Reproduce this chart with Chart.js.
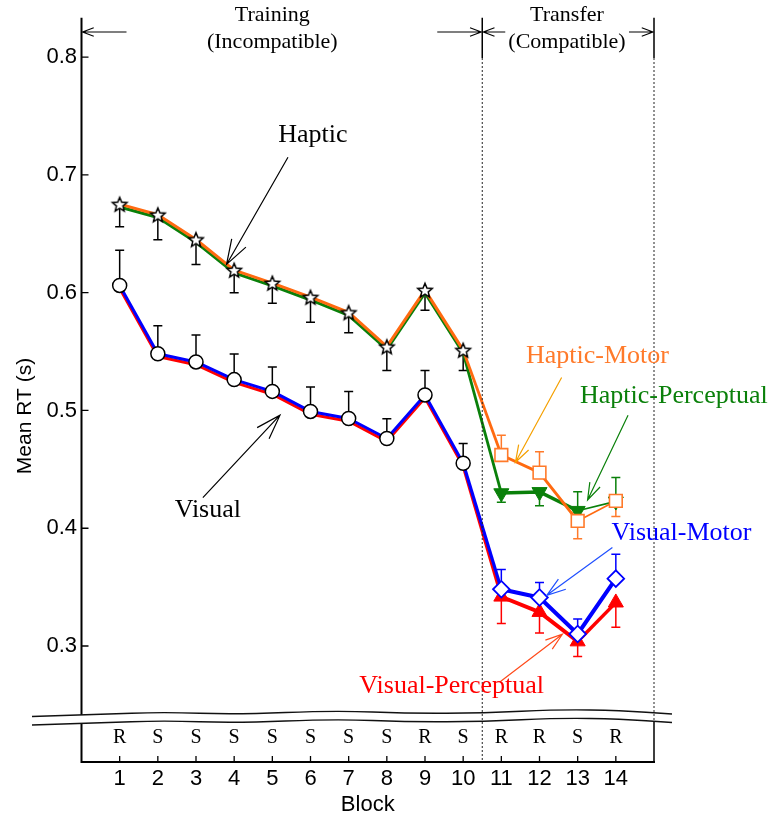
<!DOCTYPE html>
<html>
<head>
<meta charset="utf-8">
<script src="https://cdn.jsdelivr.net/npm/chart.js@4.4.1/dist/chart.umd.min.js"></script>
<style>
  html, body { margin: 0; padding: 0; background: #fff; }
  canvas { display: block; }
</style>
</head>
<body>
<canvas id="rt" width="774" height="823"></canvas>
<script>
// ---- data -------------------------------------------------------------
const blocks = [1, 2, 3, 4, 5, 6, 7, 8, 9, 10, 11, 12, 13, 14];
const trialTypes = ['R', 'S', 'S', 'S', 'S', 'S', 'S', 'S', 'R', 'S', 'R', 'R', 'S', 'R'];
const yTickValues = [0.3, 0.4, 0.5, 0.6, 0.7, 0.8];

// training blocks 1-10 (both groups of each modality share the same curve)
const hapticTraining = [0.674, 0.665, 0.644, 0.618, 0.607, 0.595, 0.582, 0.553, 0.601, 0.550];
const visualTraining = [0.605, 0.547, 0.540, 0.525, 0.515, 0.498, 0.492, 0.475, 0.512, 0.454];

// transfer blocks 11-14
const hapticMotor      = [0.461, 0.446, 0.405, 0.422];
const hapticPerceptual = [0.431, 0.432, 0.416, 0.424];
const visualMotor      = [0.347, 0.340, 0.309, 0.356];
const visualPerceptual = [0.343, 0.330, 0.305, 0.338];

// end values of the one-sided error bars
const hapticTrainingErr   = [0.656, 0.645, 0.624, 0.600, 0.591, 0.575, 0.566, 0.534, 0.585, 0.534];
const visualTrainingErr   = [0.636, 0.572, 0.564, 0.548, 0.537, 0.520, 0.516, 0.493, 0.534, 0.472];
const hapticMotorErr      = [0.479, 0.465, 0.391, 0.410];
const hapticPerceptualErr = [0.422, 0.419, 0.431, 0.443];
const visualMotorErr      = [0.365, 0.354, 0.323, 0.378];
const visualPerceptualErr = [0.319, 0.311, 0.291, 0.316];

// ---- colours / fonts --------------------------------------------------
const ORANGE = '#ff6a10';
const ORANGE_MK = '#ff7a2a';
const ORANGE_ARROW = '#f5a000';
const GREEN = '#0a800a';
const BLUE = '#0000ff';
const BLUE_ARROW = '#1f4fff';
const RED = '#ff0000';
const RED_ARROW = '#ff4a1a';
const SANS = '"Liberation Sans", Arial, sans-serif';
const SERIF = '"Liberation Serif", "Times New Roman", serif';

const nTrain = hapticTraining.length;
const nTransfer = hapticMotor.length;
const toPoints = vals => vals.map((v, i) => ({ x: blocks[i], y: v }));
const repeat = (a, n, b, m) => Array(n).fill(a).concat(Array(m).fill(b));

// five-pointed hollow star used for the haptic training points
function makeStar(outer, inner, lw) {
  const size = 22;
  const c = document.createElement('canvas');
  c.width = size; c.height = size;
  const g = c.getContext('2d');
  g.beginPath();
  for (let k = 0; k < 10; k++) {
    const r = k % 2 ? inner : outer;
    const a = -Math.PI / 2 + k * Math.PI / 5;
    g.lineTo(size / 2 + r * Math.cos(a), size / 2 + 0.8 + r * Math.sin(a));
  }
  g.closePath();
  g.fillStyle = '#fff';
  g.fill();
  g.lineWidth = lw;
  g.strokeStyle = '#000';
  g.lineJoin = 'miter';
  g.stroke();
  return c;
}
const star = makeStar(7.6, 3.4, 1.5);

// per-segment line widths (segment i joins block i+1 and i+2)
const widthsHM = [3, 3, 3, 3, 3, 3, 3, 3, 3, 2.8, 3, 3, 1.6];
const widthsHP = [3, 3, 3, 3, 3, 3, 3, 3, 3, 2.8, 3.5, 3.5, 1.6];
const widthsVM = [3, 3, 3, 3, 3, 3, 3, 3, 3, 3.2, 4, 4, 4];
const widthsVP = [3, 3, 3, 3, 3, 3, 3, 3, 3, 3.2, 4, 4, 3.5];

// paired lines are drawn side by side; vertical shift in px per dataset
const bandShift = [-1.4, 1.4, -1.4, 1.4];

const datasets = [
  { // Visual-Motor (blue, on top)
    data: toPoints(visualTraining.concat(visualMotor)),
    borderColor: BLUE,
    borderWidth: 3,
    segment: { borderWidth: c => widthsVM[c.p0DataIndex] },
    pointStyle: repeat('circle', nTrain, 'rectRot', nTransfer),
    pointRadius: repeat(7, nTrain, 8.3, nTransfer),
    pointBackgroundColor: '#fff',
    pointBorderColor: repeat('#000', nTrain, BLUE, nTransfer),
    pointBorderWidth: repeat(1.5, nTrain, 1.8, nTransfer)
  },
  { // Visual-Perceptual (red)
    data: toPoints(visualTraining.concat(visualPerceptual)),
    borderColor: RED,
    borderWidth: 3,
    segment: { borderWidth: c => widthsVP[c.p0DataIndex] },
    pointStyle: 'triangle',
    pointRadius: repeat(0, nTrain, 8.7, nTransfer),
    pointBackgroundColor: RED,
    pointBorderColor: RED,
    pointBorderWidth: 1
  },
  { // Haptic-Motor (orange)
    data: toPoints(hapticTraining.concat(hapticMotor)),
    borderColor: ORANGE,
    borderWidth: 3,
    segment: { borderWidth: c => widthsHM[c.p0DataIndex] },
    pointStyle: repeat(star, nTrain, 'rect', nTransfer),
    pointRadius: repeat(7, nTrain, 9, nTransfer),
    pointBackgroundColor: '#fff',
    pointBorderColor: ORANGE_MK,
    pointBorderWidth: 1.6
  },
  { // Haptic-Perceptual (green)
    data: toPoints(hapticTraining.concat(hapticPerceptual)),
    borderColor: GREEN,
    borderWidth: 3,
    segment: { borderWidth: c => widthsHP[c.p0DataIndex] },
    pointStyle: 'triangle',
    pointRotation: 180,
    pointRadius: repeat(0, nTrain, 8.7, nTransfer),
    pointBackgroundColor: GREEN,
    pointBorderColor: GREEN,
    pointBorderWidth: 1
  }
];

const errorSets = [
  { first: 0, vals: hapticTraining, ends: hapticTrainingErr, color: '#000' },
  { first: 0, vals: visualTraining, ends: visualTrainingErr, color: '#000' },
  { first: nTrain, vals: hapticMotor, ends: hapticMotorErr, color: ORANGE_MK },
  { first: nTrain, vals: hapticPerceptual, ends: hapticPerceptualErr, color: GREEN },
  { first: nTrain, vals: visualMotor, ends: visualMotorErr, color: BLUE },
  { first: nTrain, vals: visualPerceptual, ends: visualPerceptualErr, color: RED }
];

// labelled arrows, positioned in (block, seconds)
const callouts = [
  { text: 'Haptic', color: '#000', at: [6.06, 0.734], from: [5.41, 0.715], to: [3.80, 0.624], arrow: '#000', head: 26 },
  { text: 'Visual', color: '#000', at: [3.31, 0.415], from: [3.18, 0.426], to: [5.20, 0.496], arrow: '#000', head: 26 },
  { text: 'Haptic-Motor', color: ORANGE_MK, at: [13.52, 0.546], from: [12.58, 0.528], to: [11.37, 0.456], arrow: ORANGE_ARROW, head: 18 },
  { text: 'Haptic-Perceptual', color: GREEN, at: [15.52, 0.512], from: [14.32, 0.496], to: [13.26, 0.424], arrow: GREEN, head: 18 },
  { text: 'Visual-Motor', color: BLUE, at: [15.72, 0.3955], from: [13.91, 0.3836], to: [12.19, 0.343], arrow: BLUE_ARROW, head: 20 },
  { text: 'Visual-Perceptual', color: RED, at: [9.70, 0.266], from: [10.96, 0.2694], to: [12.60, 0.310], arrow: RED_ARROW, head: 18 }
];

// ---- helpers ----------------------------------------------------------
function arrow(ctx, x0, y0, x1, y1, len, half, color, lw) {
  const a = Math.atan2(y0 - y1, x0 - x1);
  ctx.save();
  ctx.strokeStyle = color;
  ctx.lineWidth = lw;
  ctx.beginPath();
  ctx.moveTo(x0, y0); ctx.lineTo(x1, y1);
  ctx.moveTo(x1 + len * Math.cos(a + half), y1 + len * Math.sin(a + half));
  ctx.lineTo(x1, y1);
  ctx.lineTo(x1 + len * Math.cos(a - half), y1 + len * Math.sin(a - half));
  ctx.stroke();
  ctx.restore();
}

function smoothPath(ctx, pts, move) {
  if (move) ctx.moveTo(pts[0][0], pts[0][1]); else ctx.lineTo(pts[0][0], pts[0][1]);
  for (let i = 1; i < pts.length - 1; i++) {
    const mx = (pts[i][0] + pts[i + 1][0]) / 2, my = (pts[i][1] + pts[i + 1][1]) / 2;
    ctx.quadraticCurveTo(pts[i][0], pts[i][1], mx, my);
  }
  const last = pts[pts.length - 1];
  ctx.lineTo(last[0], last[1]);
}

// ---- plugin: error bars, paired-line offsets, axes and annotations -----
const decor = {
  id: 'decor',
  beforeDatasetsDraw(chart) {
    const { ctx, scales: { x, y } } = chart;
    ctx.save();
    ctx.lineWidth = 1.5;
    errorSets.forEach(s => {
      ctx.strokeStyle = s.color;
      s.vals.forEach((v, i) => {
        const px = x.getPixelForValue(blocks[s.first + i]);
        const p0 = y.getPixelForValue(v);
        const p1 = y.getPixelForValue(s.ends[i]);
        ctx.beginPath();
        ctx.moveTo(px, p0); ctx.lineTo(px, p1);
        ctx.moveTo(px - 4.5, p1); ctx.lineTo(px + 4.5, p1);
        ctx.stroke();
      });
    });
    ctx.restore();
  },
  beforeDatasetDraw(chart, args) {
    chart.ctx.save();
    chart.ctx.translate(0, bandShift[args.index] || 0);
  },
  afterDatasetDraw(chart) {
    chart.ctx.restore();
  },
  afterDraw(chart) {
    const { ctx, chartArea: a, scales: { x, y } } = chart;
    const xl = a.left, xr = a.right, yb = a.bottom, yt = a.top;
    const xSplit = x.getPixelForValue(10.5);
    ctx.save();

    // axis lines
    ctx.strokeStyle = '#000';
    ctx.lineWidth = 2;
    ctx.beginPath();
    ctx.moveTo(xl, yt); ctx.lineTo(xl, yb); ctx.lineTo(xr + 1, yb);
    ctx.stroke();

    // inward tick marks
    ctx.lineWidth = 1.3;
    ctx.beginPath();
    yTickValues.forEach(v => { const p = y.getPixelForValue(v); ctx.moveTo(xl, p); ctx.lineTo(xl + 7, p); });
    blocks.forEach(b => { const p = x.getPixelForValue(b); ctx.moveTo(p, yb); ctx.lineTo(p, yb - 6); });
    ctx.stroke();

    // axis break
    const top = [[32, 716.5], [100, 714.5], [163, 712], [236, 714.5], [335, 710.5], [410, 713.5], [483, 713], [560, 709.5], [620, 710.5], [672, 714]];
    const bot = top.map(p => [p[0], p[1] + 8.5]);
    ctx.fillStyle = '#fff';
    ctx.beginPath();
    smoothPath(ctx, top, true);
    smoothPath(ctx, bot.slice().reverse(), false);
    ctx.closePath();
    ctx.fill();
    ctx.lineWidth = 1.4;
    ctx.strokeStyle = '#111';
    ctx.beginPath(); smoothPath(ctx, top, true); ctx.stroke();
    ctx.beginPath(); smoothPath(ctx, bot, true); ctx.stroke();

    // phase boundaries
    ctx.strokeStyle = '#000';
    ctx.lineWidth = 1.5;
    ctx.beginPath();
    ctx.moveTo(xSplit, yt); ctx.lineTo(xSplit, 58);
    ctx.moveTo(xr, yt); ctx.lineTo(xr, 58);
    ctx.moveTo(xr, 722); ctx.lineTo(xr, yb);
    ctx.stroke();
    ctx.lineWidth = 1;
    ctx.strokeStyle = '#222';
    ctx.setLineDash([2, 2]);
    ctx.beginPath();
    ctx.moveTo(xSplit, 58); ctx.lineTo(xSplit, yb);
    ctx.moveTo(xr, 58); ctx.lineTo(xr, 722);
    ctx.stroke();
    ctx.setLineDash([]);

    // trial type per block
    ctx.fillStyle = '#000';
    ctx.font = '20px ' + SERIF;
    ctx.textAlign = 'center';
    ctx.textBaseline = 'middle';
    trialTypes.forEach((t, i) => ctx.fillText(t, x.getPixelForValue(blocks[i]), 738));

    // phase headers
    ctx.font = '22px ' + SERIF;
    const trainMid = x.getPixelForValue(5.0), transMid = x.getPixelForValue(12.72);
    ctx.fillText('Training', trainMid, 15);
    ctx.fillText('(Incompatible)', trainMid, 42);
    ctx.fillText('Transfer', transMid, 15);
    ctx.fillText('(Compatible)', transMid, 42);
    const hy = 32, h = 12, ha = 0.36;
    arrow(ctx, xl + 45, hy, xl + 1, hy, h, ha, '#000', 1.1);
    arrow(ctx, xSplit - 45, hy, xSplit - 1, hy, h, ha, '#000', 1.1);
    arrow(ctx, xSplit + 23, hy, xSplit + 1, hy, h, ha, '#000', 1.1);
    arrow(ctx, xr - 25, hy, xr - 1, hy, h, ha, '#000', 1.1);

    // callouts
    ctx.font = '26px ' + SERIF;
    callouts.forEach(c => {
      arrow(ctx, x.getPixelForValue(c.from[0]), y.getPixelForValue(c.from[1]),
            x.getPixelForValue(c.to[0]), y.getPixelForValue(c.to[1]), c.head, 0.32, c.arrow, 1.2);
      ctx.fillStyle = c.color;
      ctx.fillText(c.text, x.getPixelForValue(c.at[0]), y.getPixelForValue(c.at[1]));
    });

    // y-axis title
    ctx.fillStyle = '#000';
    ctx.font = '21px ' + SANS;
    ctx.translate(25, 416);
    ctx.rotate(-Math.PI / 2);
    ctx.fillText('Mean RT (s)', 0, 0);
    ctx.restore();
  }
};

new Chart(document.getElementById('rt'), {
  type: 'line',
  data: { datasets },
  options: {
    responsive: false,
    animation: false,
    devicePixelRatio: 1,
    layout: { padding: { top: 15, right: 120, left: 0, bottom: 0 } },
    elements: { line: { tension: 0, borderJoinStyle: 'round' } },
    plugins: { legend: { display: false }, tooltip: { enabled: false } },
    scales: {
      x: {
        type: 'linear',
        min: 0,
        max: 15,
        grid: { display: false, drawTicks: false },
        border: { display: false },
        afterBuildTicks: s => { s.ticks = blocks.map(v => ({ value: v })); },
        afterFit: s => { s.height = 61; },
        ticks: {
          autoSkip: false, maxRotation: 0, padding: 4, color: '#000',
          font: { family: SANS, size: 22 },
          callback: v => String(v)
        },
        title: {
          display: true, text: 'Block', color: '#000',
          font: { family: SANS, size: 22 },
          padding: { top: 0, bottom: 5 }
        }
      },
      y: {
        type: 'linear',
        min: 0.2015,
        max: 0.8335,
        grid: { display: false, drawTicks: false },
        border: { display: false },
        afterBuildTicks: s => { s.ticks = yTickValues.map(v => ({ value: v })); },
        afterFit: s => { s.width = 81.5; },
        ticks: {
          padding: 4.5, color: '#000',
          font: { family: SANS, size: 22 },
          callback: v => v.toFixed(1)
        }
      }
    }
  },
  plugins: [decor]
});
</script>
</body>
</html>
